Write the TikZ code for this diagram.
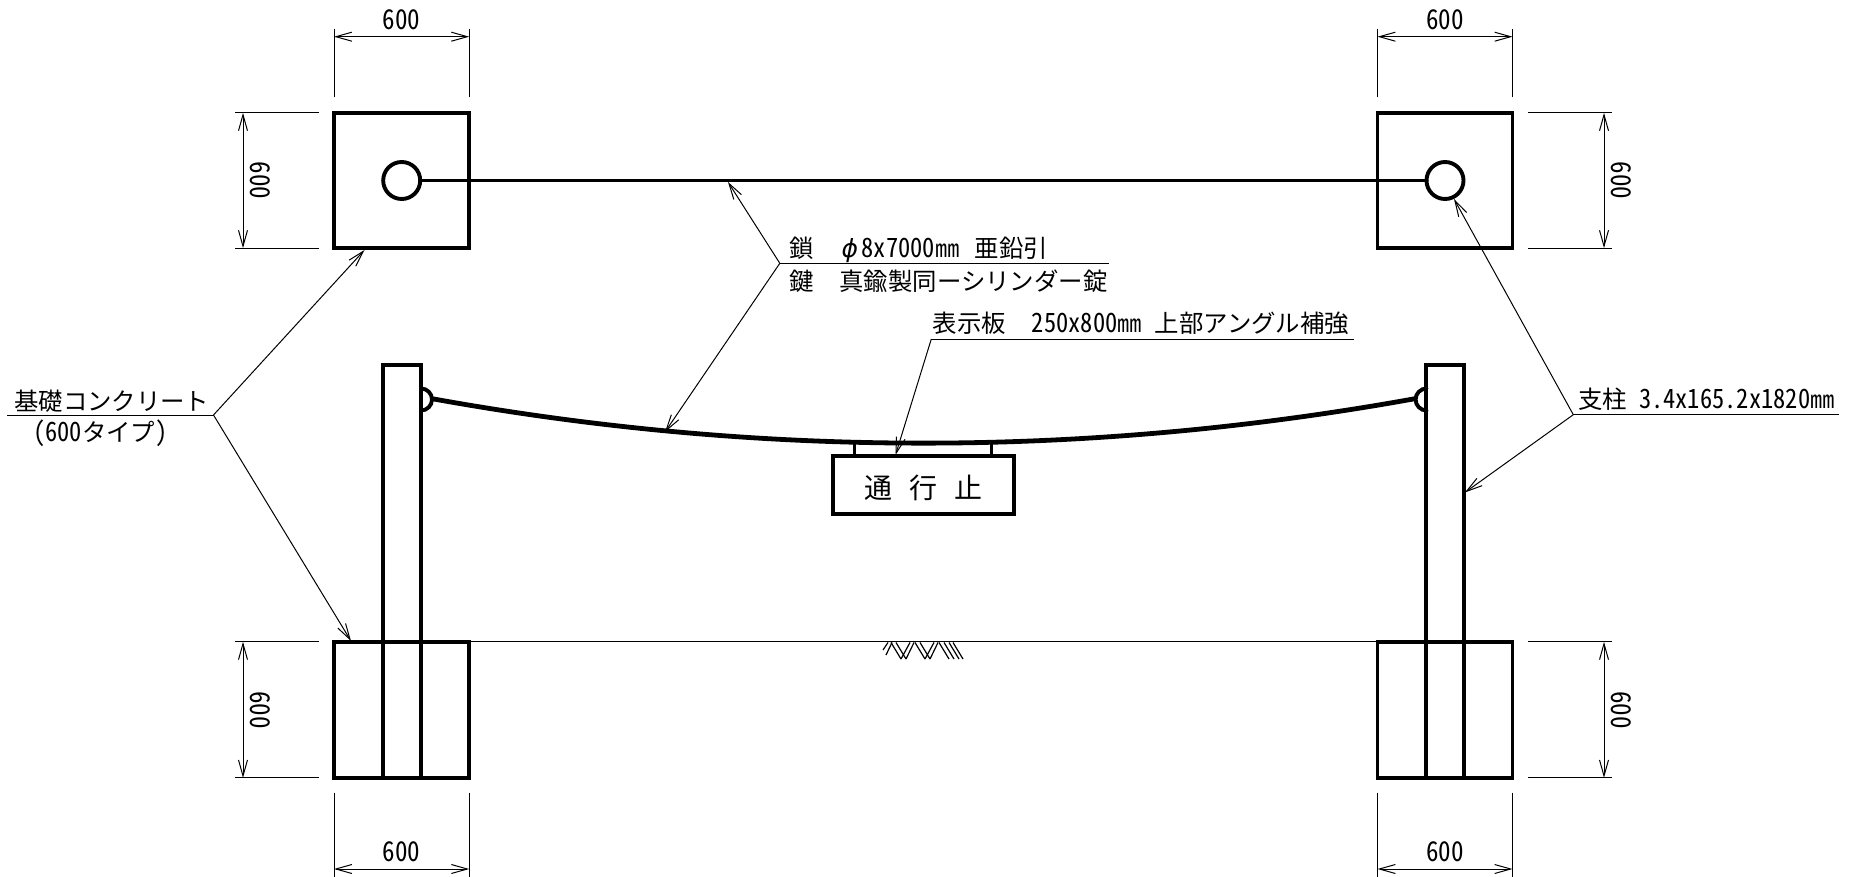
\documentclass[tikz,border=0pt]{standalone}
\usepackage{fontspec}
\setmainfont{Noto Sans CJK JP}
\newfontfamily\hw[RawFeature=+hwid,Scale=1.09,FakeStretch=0.92]{Noto Sans CJK JP}
\newfontfamily\phifont{DejaVu Sans}
\usetikzlibrary{arrows.meta}
\tikzset{
  thickln/.style={line width=3.9pt,line join=miter,line cap=round},
  thinln/.style={line width=1pt,black},
  ptr/.style={thinln,-{Straight Barb[length=16pt,width=9pt,line width=1pt]}},
  dimln/.style={thinln,{Straight Barb[length=16pt,width=9pt,line width=1pt]}-{Straight Barb[length=16pt,width=9pt,line width=1pt]}},
  boxn/.style={draw,thickln,rectangle,inner sep=0pt,outer sep=0pt},
  footing/.style={boxn,minimum width=135pt,minimum height=135.2pt},
  post/.style={boxn,minimum width=37.8pt,minimum height=413pt},
  ring/.style={draw,thickln,circle,inner sep=0pt,outer sep=0pt,minimum size=37pt},
  dimtxt/.style={inner sep=0pt,font=\fontsize{25pt}{25pt}\hw},
  lbl/.style={inner sep=0pt,anchor=base west,font=\fontsize{24.4pt}{24.4pt}\selectfont},
  signtxt/.style={inner sep=0pt,font=\fontsize{28pt}{28pt}\selectfont},
  hatchln/.style={line width=1.2pt,black}
}
\begin{document}
\begin{tikzpicture}[x=1pt,y=-1pt]
\useasboundingbox (0,0) rectangle (1857,877);
\fill[white] (0,0) rectangle (1857,877);

% footings (plan)
\node[footing] (tl) at (401.6,180.5) {};
\node[footing] (tr) at (1445,180.5) {};
% chain plan
\node[ring] (cl) at (401.7,180.5) {};
\node[ring] (cr) at (1445,180.5) {};
\draw[thickln] (cl.east) -- (cr.west);

% posts
\node[post] (pl) at (401.7,571.5) {};
\node[post] (pr) at (1445.3,571.5) {};
% footings (elevation)
\node[footing,minimum height=136pt] (bl) at (401.6,709.8) {};
\node[footing,minimum height=136pt] (br) at (1445,709.8) {};
\draw[thinln] (bl.north east) -- (br.north west);

% hooks
\coordinate (hl) at (421,399.5);
\coordinate (hr) at (1426.6,399.5);
\draw[thickln] ([yshift=11pt]hl) arc[start angle=90,end angle=-90,radius=11pt];
\draw[thickln] ([yshift=11pt]hr) arc[start angle=90,end angle=270,radius=11pt];
% chain elevation
\coordinate (cha) at (431,398.5);
\coordinate (chb) at (1416,398.5);
\draw[line width=4.8pt] (cha) .. controls (760,458) and (1087,458) .. (chb);

% sign
\node[boxn,minimum width=181pt,minimum height=57.5pt] (sign) at (923.7,485) {};
\draw[line width=3pt] (854.7,444) -- (854.7,456);
\draw[line width=3pt] (991.5,444) -- (991.5,456);
\node[signtxt] at (923.5,488) {通\hspace{17pt}行\hspace{17pt}止};

% hatch
\foreach \k in {0,1,2}{
  \draw[hatchln] ({891+\k*24},642.5) -- ({901+\k*24},659);
  \draw[hatchln] ({896+\k*24},642.5) -- ({906+\k*24},659);
}
\foreach \k in {0,1}{
  \draw[hatchln] ({910+\k*24},642.5) -- ({901+\k*24},659);
  \draw[hatchln] ({914+\k*24},642.5) -- ({906+\k*24},659);
}
\draw[hatchln] (888,642.5) -- (883,650);
\draw[hatchln] (892,642.5) -- (886,655);
\draw[hatchln] (949,642.5) -- (959,659);
\draw[hatchln] (953,642.5) -- (963,659);

% dimensions: top left
\draw[thinln] (tl.north west)++(0,-15.5) -- ++(0,-68);
\draw[thinln] (tl.north east)++(0,-15.5) -- ++(0,-68);
\coordinate (a1d) at (334,36.7); \coordinate (a2d) at (469.2,36.7);
\draw[dimln] (a1d) -- (a2d);
\node[dimtxt] at (401.5,20) {600};
% top right
\draw[thinln] (tr.north west)++(0,-15.5) -- ++(0,-68);
\draw[thinln] (tr.north east)++(0,-15.5) -- ++(0,-68);
\coordinate (b1d) at (1377.5,36.7); \coordinate (b2d) at (1512.5,36.7);
\draw[dimln] (b1d) -- (b2d);
\node[dimtxt] at (1445,20) {600};
% bottom left
\draw[thinln] (bl.south west)++(0,14.7) -- ++(0,84);
\draw[thinln] (bl.south east)++(0,14.7) -- ++(0,84);
\coordinate (c1d) at (334,869); \coordinate (c2d) at (469.2,869);
\draw[dimln] (c1d) -- (c2d);
\node[dimtxt] at (401.5,852) {600};
% bottom right
\draw[thinln] (br.south west)++(0,14.7) -- ++(0,84);
\draw[thinln] (br.south east)++(0,14.7) -- ++(0,84);
\coordinate (d1d) at (1377.5,869); \coordinate (d2d) at (1512.5,869);
\draw[dimln] (d1d) -- (d2d);
\node[dimtxt] at (1445,852) {600};
% left vertical, top
\draw[thinln] (235,112.9) -- (319,112.9);
\draw[thinln] (235,248.1) -- (319,248.1);
\coordinate (e1d) at (243,112.9); \coordinate (e2d) at (243,248.1);
\draw[dimln] (e1d) -- (e2d);
\node[dimtxt,rotate=-90] at (260,180.5) {600};
% left vertical, bottom
\draw[thinln] (235,641.8) -- (319,641.8);
\draw[thinln] (235,777.8) -- (319,777.8);
\coordinate (f1d) at (243,641.8); \coordinate (f2d) at (243,777.8);
\draw[dimln] (f1d) -- (f2d);
\node[dimtxt,rotate=-90] at (260,710) {600};
% right vertical, top
\draw[thinln] (1528,112.9) -- (1612,112.9);
\draw[thinln] (1528,248.1) -- (1612,248.1);
\coordinate (g1d) at (1604,112.9); \coordinate (g2d) at (1604,248.1);
\draw[dimln] (g1d) -- (g2d);
\node[dimtxt,rotate=-90] at (1621.7,180.5) {600};
% right vertical, bottom
\draw[thinln] (1528,641.8) -- (1612,641.8);
\draw[thinln] (1528,777.8) -- (1612,777.8);
\coordinate (h1d) at (1604,641.8); \coordinate (h2d) at (1604,777.8);
\draw[dimln] (h1d) -- (h2d);
\node[dimtxt,rotate=-90] at (1621.7,710) {600};

% leader: foundation
\coordinate (v1) at (213.5,415);
\coordinate (v1e) at (7,415);
\draw[thinln] (v1e) -- (v1);
\coordinate (t1a) at (364.5,250);
\coordinate (t1b) at (351,641);
\draw[ptr] (v1) -- (t1a);
\draw[ptr] (v1) -- (t1b);
\node[lbl] at (14,410.5) {基礎コンクリート};
\node[lbl] at (33,441) {{\hw (600}タイプ{\hw )}};

% leader: chain
\coordinate (v2) at (779.8,263.3);
\coordinate (v2e) at (1109.3,263.3);
\draw[thinln] (v2) -- (v2e);
\coordinate (t2a) at (728,182);
\coordinate (t2b) at (665,432);
\draw[ptr] (v2) -- (t2a);
\draw[ptr] (v2) -- (t2b);
\node[lbl] at (789,257.5) {鎖\hspace{28pt}{\phifont\fontsize{25pt}{25pt}\selectfont\itshape ϕ}\hspace{3.5pt}{\hw 8x7000}㎜\hspace{15.5pt}亜鉛引};
\node[lbl] at (789,290.2) {鍵\hspace{26pt}真鍮製同ーシリンダー錠};

% leader: sign
\coordinate (v3) at (931.3,339);
\coordinate (v3e) at (1354,339);
\draw[thinln] (v3) -- (v3e);
\coordinate (t3) at (895.5,455);
\draw[ptr] (v3) -- (t3);
\node[lbl] at (932.5,332.5) {表示板\hspace{26pt}{\hw 250x800}㎜\hspace{13pt}上部アングル補強};

% leader: post
\coordinate (v4) at (1573.3,414.7);
\coordinate (v4e) at (1839,414.7);
\draw[thinln] (v4) -- (v4e);
\coordinate (t4a) at (1454,199);
\coordinate (t4b) at (1465,492.4);
\draw[ptr] (v4) -- (t4a);
\draw[ptr] (v4) -- (t4b);
\node[lbl] at (1578,408.5) {支柱\hspace{12pt}{\hw 3.4x165.2x1820}㎜};
\end{tikzpicture}
\end{document}
